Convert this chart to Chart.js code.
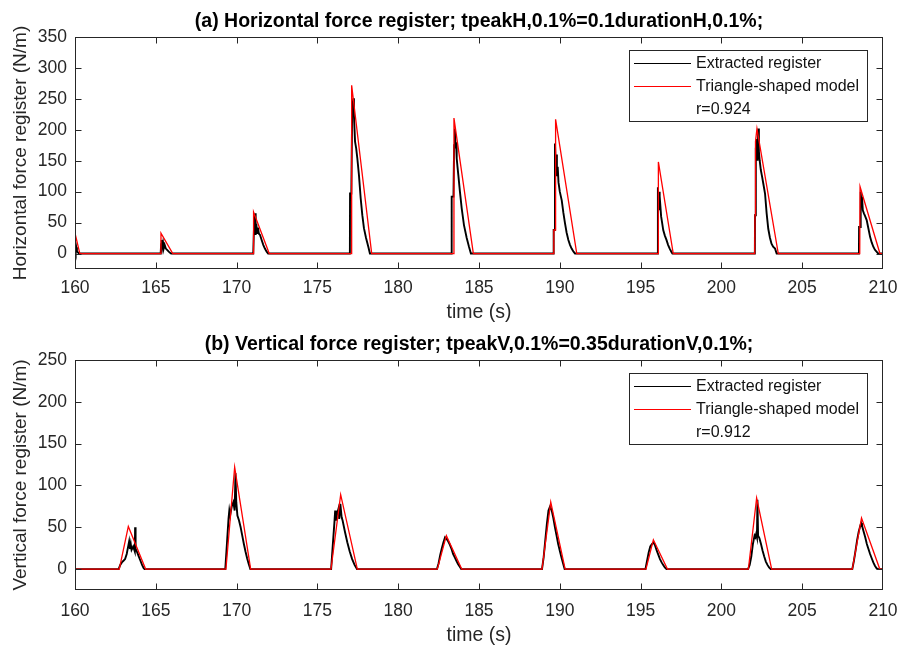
<!DOCTYPE html>
<html>
<head>
<meta charset="utf-8">
<title>Force registers</title>
<script src="https://cdn.jsdelivr.net/npm/chart.js@4.4.0/dist/chart.umd.min.js"></script>
<style>
  html, body { margin: 0; padding: 0; background: #fff; }
  .panel { position: absolute; left: 0; width: 901px; height: 324px; }
  #panel-h { top: 0; }
  #panel-v { top: 324px; }
</style>
</head>
<body>
<div class="panel" id="panel-h"><canvas id="chart-h"></canvas></div>
<div class="panel" id="panel-v"><canvas id="chart-v"></canvas></div>
<script>
"use strict";

// tick labels
const timeTicks = [160, 165, 170, 175, 180, 185, 190, 195, 200, 205, 210];
const hForceTicks = [0, 50, 100, 150, 200, 250, 300, 350];
const vForceTicks = [0, 50, 100, 150, 200, 250];

// (a) horizontal register, [time s, force N/m]
const hExtracted = [
  [160.00, 8], [160.04, 3], [160.08, 10], [160.12, 4], [160.18, 2], [160.25, 0],
  [165.30, 0], [165.33, 15], [165.36, 22], [165.40, 10], [165.45, 18], [165.50, 9], [165.55, 14],
  [165.62, 8], [165.70, 6], [165.80, 3], [165.90, 1], [165.95, 0],
  [171.03, 0], [171.08, 45], [171.15, 65], [171.18, 30], [171.22, 48], [171.27, 33], [171.32, 42],
  [171.38, 32], [171.45, 30], [171.55, 22], [171.65, 14], [171.75, 8], [171.86, 3], [171.95, 0],
  [177.01, 0], [177.02, 97], [177.10, 97], [177.15, 230], [177.22, 251], [177.26, 224], [177.33, 181],
  [177.40, 170], [177.47, 154], [177.57, 127], [177.68, 89], [177.78, 62], [177.88, 41], [178.01, 25],
  [178.15, 11], [178.25, 0],
  [183.30, 0], [183.31, 92], [183.42, 92], [183.46, 175], [183.51, 202], [183.55, 170], [183.58, 180],
  [183.62, 154], [183.67, 140], [183.72, 127], [183.82, 100], [183.93, 73], [184.07, 46], [184.24, 25],
  [184.38, 11], [184.50, 0],
  [189.61, 0], [189.62, 38], [189.68, 38], [189.70, 178], [189.74, 150], [189.78, 160], [189.82, 125],
  [189.87, 140], [189.92, 115], [190.00, 100], [190.12, 86], [190.22, 66], [190.32, 49], [190.42, 34],
  [190.53, 22], [190.63, 14], [190.73, 8], [190.85, 3], [190.94, 0],
  [196.06, 0], [196.07, 107], [196.11, 80], [196.14, 100], [196.18, 70], [196.22, 78], [196.27, 60],
  [196.33, 50], [196.40, 38], [196.50, 29], [196.60, 22], [196.70, 14], [196.80, 8], [196.90, 3], [196.97, 0],
  [202.07, 0], [202.08, 62], [202.12, 62], [202.14, 170], [202.20, 185], [202.24, 150], [202.28, 202],
  [202.32, 165], [202.37, 150], [202.44, 135], [202.52, 124], [202.60, 112], [202.70, 97], [202.80, 65],
  [202.90, 40], [203.00, 26], [203.10, 16], [203.20, 11], [203.32, 8], [203.42, 0],
  [208.51, 0], [208.52, 43], [208.58, 43], [208.62, 100], [208.66, 80], [208.70, 92], [208.75, 70],
  [208.82, 65], [208.90, 60], [208.99, 54], [209.10, 40], [209.20, 27], [209.30, 18], [209.40, 11],
  [209.50, 6], [209.60, 3], [209.70, 0], [210.00, 0],
];
const hModel = [
  [160.00, 33], [160.30, 0], [165.30, 0], [165.32, 33], [166.05, 0],
  [171.03, 0], [171.05, 67], [172.02, 0], [177.10, 0], [177.12, 272], [178.36, 0],
  [183.42, 0], [183.45, 219], [184.65, 0], [189.62, 0], [189.63, 38], [189.72, 38],
  [189.74, 217], [191.05, 0], [196.08, 0], [196.10, 148], [197.02, 0],
  [202.06, 0], [202.08, 62], [202.10, 62], [202.12, 181], [202.20, 202], [203.52, 0],
  [208.56, 0], [208.58, 108], [209.81, 0], [210.00, 0],
];

// (b) vertical register, [time s, force N/m]
const vExtracted = [
  [160.00, 0], [162.70, 0], [162.80, 5], [162.90, 8], [163.00, 10], [163.10, 12], [163.20, 18],
  [163.30, 28], [163.35, 33], [163.40, 24], [163.45, 30], [163.50, 23], [163.60, 27], [163.70, 21],
  [163.72, 50], [163.75, 24], [163.85, 20], [163.95, 15], [164.05, 10], [164.15, 5], [164.25, 1], [164.30, 0],
  [169.30, 0], [169.40, 30], [169.50, 60], [169.55, 70], [169.60, 64], [169.70, 75], [169.80, 80],
  [169.88, 70], [169.93, 115], [169.98, 80], [170.05, 64], [170.15, 58], [170.25, 50], [170.35, 40],
  [170.45, 30], [170.55, 21], [170.65, 13], [170.75, 6], [170.85, 0],
  [175.85, 0], [175.95, 28], [176.05, 55], [176.10, 70], [176.15, 58], [176.22, 66], [176.30, 72],
  [176.35, 60], [176.42, 78], [176.50, 62], [176.56, 58], [176.70, 45], [176.85, 32], [177.00, 21],
  [177.15, 12], [177.30, 5], [177.45, 0],
  [182.40, 0], [182.50, 7], [182.60, 17], [182.70, 25], [182.80, 32], [182.90, 38], [183.00, 36],
  [183.10, 33], [183.20, 29], [183.30, 24], [183.40, 18], [183.50, 14], [183.60, 10], [183.70, 6],
  [183.80, 3], [183.90, 0],
  [188.90, 0], [189.00, 14], [189.10, 34], [189.20, 54], [189.30, 70], [189.40, 75], [189.50, 70],
  [189.60, 61], [189.70, 50], [189.80, 40], [189.90, 30], [190.00, 22], [190.10, 14], [190.20, 7], [190.30, 0],
  [195.30, 0], [195.40, 10], [195.50, 20], [195.60, 27], [195.70, 30], [195.80, 32], [195.90, 28],
  [196.00, 22], [196.10, 17], [196.20, 12], [196.30, 8], [196.40, 5], [196.50, 2], [196.60, 0],
  [201.65, 0], [201.75, 5], [201.85, 15], [201.95, 30], [202.00, 35], [202.05, 40], [202.10, 38],
  [202.15, 42], [202.20, 38], [202.23, 83], [202.27, 40], [202.35, 37], [202.45, 30], [202.55, 22],
  [202.65, 15], [202.75, 9], [202.85, 5], [202.95, 2], [203.05, 0],
  [208.10, 0], [208.20, 10], [208.30, 22], [208.40, 35], [208.50, 45], [208.60, 52], [208.65, 55],
  [208.70, 52], [208.80, 45], [208.90, 38], [209.00, 30], [209.10, 24], [209.20, 18], [209.30, 13],
  [209.40, 8], [209.50, 4], [209.60, 1], [209.70, 0], [210.00, 0],
];
const vModel = [
  [160.00, 0], [162.74, 0], [163.30, 51], [164.37, 0], [169.34, 0], [169.88, 122], [170.87, 0],
  [175.84, 0], [176.44, 89], [177.47, 0], [182.42, 0], [182.98, 40], [183.93, 0],
  [188.90, 0], [189.44, 80], [190.33, 0], [195.33, 0], [195.79, 35], [196.66, 0],
  [201.67, 0], [202.18, 85], [203.11, 0], [208.10, 0], [208.67, 61], [209.80, 0], [210.00, 0],
];

const GREY = "#262626";
const FONT = "'Liberation Sans', Arial, Helvetica, sans-serif";

// MATLAB-like box, inward ticks, title and legend
const matlabAxes = {
  id: "matlabAxes",
  afterDatasetsDraw(chart, args, opts) {
    const { ctx, chartArea: a, scales: { x, y } } = chart;
    const L = Math.round(a.left) + 0.5, R = Math.round(a.right) - 0.5;
    const T = Math.round(a.top) + 0.5, B = Math.round(a.bottom) - 0.5;
    const clamp = (v, lo, hi) => Math.min(Math.max(v, lo), hi);
    ctx.save();
    ctx.strokeStyle = GREY;
    ctx.lineWidth = 1;
    ctx.strokeRect(L, T, R - L, B - T);
    ctx.beginPath();
    for (const t of x.ticks) {
      const px = clamp(Math.round(x.getPixelForValue(t.value)) + 0.5, L, R);
      ctx.moveTo(px, B); ctx.lineTo(px, B - 6);
      ctx.moveTo(px, T); ctx.lineTo(px, T + 6);
    }
    for (const t of y.ticks) {
      const py = clamp(Math.round(y.getPixelForValue(t.value)) + 0.5, T, B);
      ctx.moveTo(L, py); ctx.lineTo(L + 6, py);
      ctx.moveTo(R, py); ctx.lineTo(R - 6, py);
    }
    ctx.stroke();

    // title
    ctx.fillStyle = "#000";
    ctx.font = `bold 19.5px ${FONT}`;
    ctx.textAlign = "center";
    ctx.textBaseline = "middle";
    ctx.fillText(opts.title, (a.left + a.right) / 2, a.top - 15.5);

    // legend
    const bx = a.right - 254, by = a.top + 13, bw = 238, bh = 71;
    ctx.fillStyle = "#fff";
    ctx.fillRect(bx, by, bw, bh);
    ctx.strokeStyle = GREY;
    ctx.strokeRect(Math.round(bx) + 0.5, Math.round(by) + 0.5, bw, bh);
    ctx.font = `16px ${FONT}`;
    ctx.textAlign = "left";
    const rows = chart.data.datasets
      .slice()
      .sort((p, q) => q.order - p.order)
      .map(ds => ({ text: ds.label, color: ds.borderColor }));
    rows.push({ text: opts.note, color: null });
    rows.forEach((r, i) => {
      const ry = by + 13.5 + i * 23;
      if (r.color) {
        ctx.strokeStyle = r.color;
        ctx.lineWidth = 1.2;
        ctx.beginPath();
        ctx.moveTo(bx + 5, ry); ctx.lineTo(bx + 62, ry);
        ctx.stroke();
      }
      ctx.fillStyle = "#111";
      ctx.fillText(r.text, bx + 67, ry);
    });
    ctx.restore();
  },
};

function makeChart(canvasId, cfg) {
  const toXY = pts => pts.map(([t, f]) => ({ x: t, y: f }));
  return new Chart(document.getElementById(canvasId), {
    type: "line",
    data: {
      datasets: [
        {
          label: "Extracted register",
          data: toXY(cfg.extracted),
          borderColor: "#000000",
          borderWidth: 1.9,
          pointRadius: 0,
          tension: 0,
          order: 2,
        },
        {
          label: "Triangle-shaped model",
          data: toXY(cfg.model),
          borderColor: "#ff0000",
          borderWidth: 1.3,
          pointRadius: 0,
          tension: 0,
          order: 1,
        },
      ],
    },
    options: {
      responsive: true,
      maintainAspectRatio: false,
      animation: false,
      events: [],
      layout: { padding: { left: 0, right: 18, top: cfg.top, bottom: 0 } },
      plugins: {
        legend: { display: false },
        tooltip: { enabled: false },
        matlabAxes: { title: cfg.title, note: cfg.note },
      },
      scales: {
        x: {
          type: "linear",
          min: 160,
          max: 210,
          afterBuildTicks: axis => { axis.ticks = timeTicks.map(v => ({ value: v })); },
          afterFit: axis => {
            axis.height = cfg.xHeight;
            axis.paddingLeft = 0;
            axis.paddingRight = 0;
          },
          grid: { display: false, drawTicks: false },
          border: { display: false },
          ticks: { color: GREY, padding: cfg.xPad, maxRotation: 0, font: { family: FONT, size: 17.5 } },
          title: {
            display: true,
            text: "time (s)",
            color: GREY,
            font: { family: FONT, size: 19.5 },
            padding: { top: 0, bottom: cfg.xTitlePad },
          },
        },
        y: {
          type: "linear",
          min: -25,
          max: cfg.yMax,
          afterBuildTicks: axis => { axis.ticks = cfg.yTicks.map(v => ({ value: v })); },
          afterFit: axis => { axis.width = 75; },
          grid: { display: false, drawTicks: false },
          border: { display: false },
          ticks: { color: GREY, padding: 8, font: { family: FONT, size: 17.5 } },
          title: {
            display: true,
            text: cfg.yTitle,
            color: GREY,
            font: { family: FONT, size: 19 },
            padding: { top: 9.5, bottom: 0 },
          },
        },
      },
    },
    plugins: [matlabAxes],
  });
}

makeChart("chart-h", {
  extracted: hExtracted,
  model: hModel,
  yTicks: hForceTicks,
  yMax: 350,
  yTitle: "Horizontal force register (N/m)",
  title: "(a) Horizontal force register; tpeakH,0.1%=0.1durationH,0.1%;",
  note: "r=0.924",
  top: 37,
  xHeight: 55,
  xPad: 8.3,
  xTitlePad: 0,
});

makeChart("chart-v", {
  extracted: vExtracted,
  model: vModel,
  yTicks: vForceTicks,
  yMax: 250,
  yTitle: "Vertical force register (N/m)",
  title: "(b) Vertical force register; tpeakV,0.1%=0.35durationV,0.1%;",
  note: "r=0.912",
  top: 36,
  xHeight: 58,
  xPad: 10.5,
  xTitlePad: 0.5,
});
</script>
</body>
</html>
